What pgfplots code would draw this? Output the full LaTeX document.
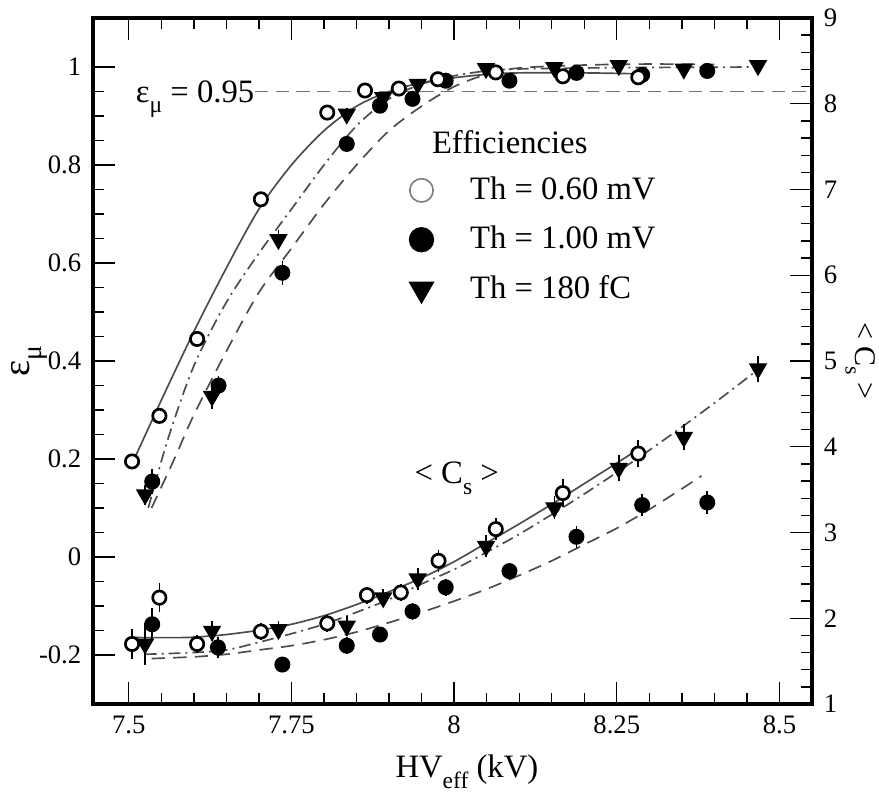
\documentclass[border=0pt]{standalone}
\usepackage{fontspec}
\setmainfont{Liberation Serif}
\usepackage{graphicx}
\usepackage{pgfplots}
\usepackage{pgfplotstable}
\pgfplotsset{compat=1.18}

\definecolor{fitgray}{gray}{0.3}
\definecolor{refgray}{gray}{0.45}
\newcommand{\sub}[1]{\raisebox{-0.32em}{\scalebox{0.72}{#1}}}

% Efficiency data (left axis)
\pgfplotstableread{
x y e
7.505 0.195 0.012
7.547 0.288 0.012
7.605 0.445 0.012
7.703 0.730 0.012
7.805 0.907 0.010
7.863 0.952 0.010
7.915 0.956 0.010
7.975 0.975 0.010
8.064 0.989 0.010
8.167 0.981 0.010
8.283 0.979 0.010
}\effOpen
\pgfplotstableread{
x y e
7.536 0.154 0.025
7.638 0.350 0.020
7.736 0.580 0.025
7.835 0.843 0.012
7.886 0.921 0.010
7.936 0.935 0.010
7.987 0.972 0.010
8.085 0.972 0.010
8.188 0.988 0.010
8.289 0.984 0.010
8.389 0.992 0.010
}\effFull
\pgfplotstableread{
x y e
7.525 0.127 0.020
7.628 0.328 0.025
7.730 0.648 0.020
7.835 0.904 0.012
7.891 0.938 0.010
7.944 0.965 0.010
8.049 0.997 0.010
8.154 0.999 0.010
8.253 1.003 0.010
8.353 0.996 0.010
8.467 1.003 0.010
}\effTri

% <C_s> data (right axis)
\pgfplotstableread{
x y e
7.505 1.70 0.17
7.547 2.24 0.17
7.605 1.70 0.10
7.703 1.845 0.10
7.805 1.94 0.10
7.866 2.27 0.10
7.918 2.30 0.10
7.976 2.67 0.13
8.064 3.04 0.13
8.167 3.46 0.16
8.283 3.92 0.16
}\csOpen
\pgfplotstableread{
x y e
7.536 1.93 0.19
7.637 1.66 0.12
7.736 1.46 0.08
7.835 1.68 0.10
7.886 1.81 0.08
7.936 2.08 0.10
7.987 2.36 0.10
8.085 2.55 0.10
8.188 2.95 0.13
8.289 3.32 0.13
8.389 3.35 0.13
}\csFull
\pgfplotstableread{
x y e
7.525 1.70 0.25
7.628 1.85 0.12
7.730 1.87 0.10
7.835 1.91 0.12
7.891 2.24 0.10
7.944 2.46 0.13
8.049 2.84 0.13
8.154 3.29 0.13
8.253 3.75 0.15
8.353 4.11 0.15
8.467 4.91 0.15
}\csTri

\pgfplotsset{
  common/.style={
    scale only axis, width=215.7pt, height=205.8pt,
    xmin=7.445, xmax=8.55,
    tick align=inside,
    major tick length=6.5pt, minor tick length=3.2pt,
    every tick/.style={black, line width=0.4pt},
    axis line style={-, line width=1.1pt},
    tick label style={font=\fontsize{8}{9.6}\selectfont},
    /pgf/number format/assume math mode=true,
    label style={font=\fontsize{9.8}{11.8}\selectfont},
  },
  fitsolid/.style={fitgray, line width=0.5pt, smooth, forget plot},
  fitdash/.style={fitgray, line width=0.5pt, smooth, dash pattern=on 4pt off 2.5pt, forget plot},
  fitdashdot/.style={fitgray, line width=0.5pt, smooth, dash pattern=on 3.5pt off 1.5pt on 0.6pt off 1.5pt, forget plot},
  errs/.style={error bars/.cd, y dir=both, y explicit, error mark=none,
     error bar style={black, line width=0.5pt}},
  mopen/.style={only marks, mark=*, mark size=2.0pt, mark options={fill=white, draw=black, line width=0.8pt}, forget plot, errs},
  mfull/.style={only marks, mark=*, mark size=2.2pt, mark options={fill=black, draw=black}, forget plot, errs},
  mtri/.style={only marks, mark=triangle*, mark size=2.8pt, mark options={fill=black, draw=black, rotate=180}, forget plot, errs},
}

\begin{document}
\begin{tikzpicture}
\useasboundingbox (-27.9pt,-26.7pt) rectangle (235.8pt,211.2pt);
\begin{axis}[common,
  ymin=-0.3, ymax=1.1,
  xtick={7.5,7.75,8,8.25,8.5},
  xticklabels={7.5,7.75,8,8.25,8.5},
  minor x tick num=4,
  ytick={-0.2,0,0.2,0.4,0.6,0.8,1},
  yticklabels={-0.2,0,0.2,0.4,0.6,0.8,1},
  minor y tick num=3,
  ytick pos=left, xtick pos=both,
  xlabel={HV\sub{eff} (kV)},
  ylabel={ε\sub{μ}},
  xlabel style={at={(axis description cs:0.52,-0.099)}, anchor=center},
  ylabel style={at={(axis description cs:-0.088,0.5)}, anchor=center, font=\fontsize{11.5}{13}\selectfont},
  legend style={draw=none, fill=none, font=\fontsize{9.8}{11.8}\selectfont,
    at={(axis cs:7.915,0.805)}, anchor=north west, row sep=2.5pt,
    /tikz/every odd column/.append style={column sep=9pt}},
  legend cell align=left,
]
% reference line
\addplot[refgray, line width=0.5pt, dash pattern=on 4pt off 2.2pt, forget plot] coordinates {(7.694,0.95) (8.55,0.95)};
\node[anchor=base west, font=\fontsize{9.8}{11.8}\selectfont, inner sep=0pt] at (axis cs:7.510,0.928) {ε\sub{μ} = 0.95};
% efficiency fits
\addplot[fitsolid] coordinates {(7.505,0.19) (7.55,0.32) (7.60,0.46) (7.65,0.59) (7.70,0.71) (7.75,0.80) (7.80,0.87) (7.85,0.92) (7.90,0.95) (7.95,0.968) (8.00,0.978) (8.05,0.985) (8.10,0.988) (8.20,0.988) (8.285,0.986)};
\addplot[fitdashdot] coordinates {(7.53,0.10) (7.56,0.24) (7.60,0.39) (7.65,0.52) (7.70,0.62) (7.75,0.71) (7.80,0.80) (7.85,0.88) (7.90,0.935) (7.95,0.965) (8.00,0.982) (8.05,0.992) (8.10,0.996) (8.20,0.998) (8.30,0.999) (8.467,1.0)};
\addplot[fitdash] coordinates {(7.535,0.10) (7.57,0.20) (7.60,0.29) (7.65,0.42) (7.70,0.54) (7.75,0.63) (7.80,0.72) (7.85,0.80) (7.90,0.87) (7.95,0.92) (8.00,0.96) (8.05,0.985) (8.10,0.998) (8.20,1.004) (8.30,1.006) (8.40,1.005)};
% efficiency data
\addplot[mfull] table[x=x, y=y, y error=e] {\effFull};
\addplot[mtri] table[x=x, y=y, y error=e] {\effTri};
\addplot[mopen] table[x=x, y=y, y error=e] {\effOpen};
% legend
\addlegendimage{only marks, mark=*, mark size=3.5pt, mark options={fill=white, draw=gray, line width=0.5pt}}
\addlegendentry{Th = 0.60 mV}
\addlegendimage{only marks, mark=*, mark size=3.6pt, mark options={fill=black}}
\addlegendentry{Th = 1.00 mV}
\addlegendimage{only marks, mark=triangle*, mark size=4.1pt, mark options={fill=black, rotate=180}}
\addlegendentry{Th = 180 fC}
\node[anchor=west, font=\fontsize{9.8}{11.8}\selectfont, inner sep=0pt] at (axis cs:7.965,0.847) {Efficiencies};
\node[font=\fontsize{9.8}{11.8}\selectfont] at (axis cs:8.004,0.161) {< C\sub{s} >};
\end{axis}

\begin{axis}[common,
  ymin=1, ymax=9,
  ytick={1,2,3,4,5,6,7,8,9},
  yticklabels={1,2,3,4,5,6,7,8,9},
  minor y tick num=4,
  axis x line=none,
  axis y line*=right,
  ylabel={< C\sub{s} >},
  ylabel style={at={(axis description cs:1.067,0.5)}, anchor=center, rotate=180, font=\fontsize{9}{11}\selectfont},
]
% <C_s> fits
\addplot[fitsolid] coordinates {(7.505,1.775) (7.585,1.775) (7.62,1.79) (7.65,1.81) (7.70,1.86) (7.75,1.93) (7.80,2.03) (7.85,2.16) (7.90,2.31) (7.95,2.47) (8.00,2.66) (8.05,2.88) (8.10,3.10) (8.15,3.33) (8.20,3.57) (8.25,3.81) (8.285,3.98)};
\addplot[fitdashdot] coordinates {(7.525,1.58) (7.60,1.60) (7.65,1.63) (7.70,1.72) (7.75,1.82) (7.80,1.93) (7.85,2.07) (7.90,2.22) (7.95,2.40) (8.00,2.57) (8.05,2.77) (8.10,2.98) (8.15,3.21) (8.20,3.45) (8.25,3.70) (8.30,3.96) (8.35,4.23) (8.40,4.51) (8.45,4.80) (8.467,4.90)};
\addplot[fitdash] coordinates {(7.535,1.53) (7.60,1.55) (7.65,1.58) (7.70,1.63) (7.75,1.68) (7.80,1.75) (7.85,1.84) (7.90,1.95) (7.95,2.07) (8.00,2.20) (8.05,2.34) (8.10,2.50) (8.15,2.67) (8.20,2.86) (8.25,3.05) (8.30,3.27) (8.35,3.51) (8.38,3.66)};
% <C_s> data
\addplot[mfull] table[x=x, y=y, y error=e] {\csFull};
\addplot[mtri] table[x=x, y=y, y error=e] {\csTri};
\addplot[mopen] table[x=x, y=y, y error=e] {\csOpen};
\end{axis}
\end{tikzpicture}
\end{document}
